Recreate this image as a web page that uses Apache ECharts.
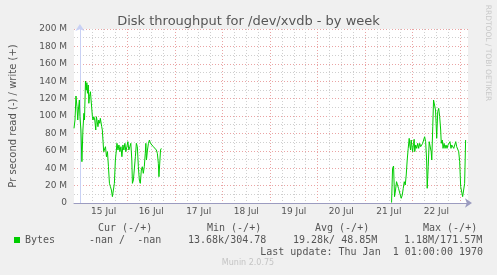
<!DOCTYPE html>
<html>
<head>
<meta charset="utf-8">
<script src="https://cdn.jsdelivr.net/npm/echarts@6/dist/echarts.min.js"></script>
<style>
html,body{margin:0;padding:0;background:#f0f0f0;}
#chart{width:497px;height:275px;}
</style>
</head>
<body>
<div id="chart"></div>
<script>
// hours relative to 15 Jul 00:00, write throughput in M
var hours1 = [-3.0,-2.5,-2.0,-1.5,-1.1,-0.8,-0.3,0.0,0.5,1.0,1.5,2.0,2.3,2.8,3.2,3.5,3.8,4.2,4.5,4.8,5.3,5.8,6.3,6.6,7.0,7.5,8.0,8.3,8.6,9.1,9.5,10.0,10.3,10.6,11.0,11.3,12.0,12.4,12.9,13.4,13.9,14.4,14.9,15.4,15.9,16.4,16.9,17.4,17.9,18.4,18.7,19.2,19.7,20.2,20.7,21.2,21.7,22.2,22.7,23.2,23.7,24.2,24.7,25.2,25.7,26.2,26.5,27.0,27.5,28.0,28.5,29.0,29.5,30.0,30.5,31.0,31.5,32.0,32.5,33.0,33.3,33.6,34.1,34.6,35.1,35.6,36.1,36.6,37.1,37.6,38.1,38.6,39.1,39.6,39.9,40.4,40.7,41.1,41.4];
var write1 = [85.8,95.4,123,110.7,95.4,106.9,118.4,99.2,83.9,47.5,83.9,103.1,95.4,140.2,129.9,138.3,126.1,135.6,114.6,122.2,127.9,129.9,99.2,95.4,99.2,95.4,83.9,99.2,95.4,87.7,95.4,91.6,97.3,99.2,87.7,83.9,59.0,57.1,64.7,53.2,59.0,41.7,22.6,18.7,14.9,7.3,5.4,22.6,49.4,60.9,68.6,60.9,66.7,59.0,64.7,53.2,66.7,60.9,68.6,59.0,64.7,70.5,60.9,64.7,68.6,49.4,22.6,26.4,24.5,53.2,68.6,64.7,41.7,26.4,22.6,37.9,41.7,34.1,41.7,57.1,68.6,49.4,60.9,68.6,72.4,68.6,67.8,66.7,64.7,62.8,66.7,60.9,57.1,45.6,30.2,30.2,60.9,62.8,60.9];
var hours2 = [157.4,157.9,158.4,158.9,159.4,159.9,160.4,160.9,161.3,161.8,162.3,162.8,163.3,163.8,164.3,164.8,165.3,165.8,166.3,166.6,167.0,167.3,167.6,168.0,168.5,168.8,169.1,169.6,170.1,170.6,171.1,171.6,172.1,172.6,173.1,173.6,174.1,174.6,175.1,175.4,175.9,176.4,176.9,177.4,177.7,178.2,178.6,179.1,179.6,179.9,180.2,180.7,181.2,181.7,182.2,182.5,183.0,183.4,183.9,184.4,184.9,185.4,185.9,186.4,186.9,187.4,187.8,188.3,188.8,189.3,189.8,190.3,190.8,191.3,191.8,192.3,192.8,193.3,193.8,194.3,194.8,195.1];
var write2 = [0.5,39.9,42.5,7.3,14.9,24.5,20.7,16.9,14.9,9.2,5.4,9.2,16.9,24.5,20.7,32.2,49.4,62.8,74.3,66.7,60.9,72.4,66.7,59.0,68.6,73.2,59.0,66.7,62.8,68.6,62.8,68.6,64.7,66.7,68.6,72.4,76.2,70.5,49.4,16.9,41.7,70.5,72.4,59.0,49.4,87.7,118.4,116.4,106.9,91.6,74.3,104.9,108.8,99.2,83.9,68.6,72.4,62.8,68.6,62.8,66.7,62.8,66.7,64.7,70.5,62.8,66.7,66.7,62.8,66.7,70.5,64.7,62.8,59.0,47.5,18.8,16.9,7.3,5.4,22.6,72.4,72.4];
var dayLabels = ['15 Jul','16 Jul','17 Jul','18 Jul','19 Jul','20 Jul','21 Jul','22 Jul'];
var yTicks = [0,20,40,60,80,100,120,140,160,180,200];
var statHeaders = ['Cur (-/+)','Min (-/+)','Avg (-/+)','Max (-/+)'];
var statValues = ['-nan /  -nan','13.68k/304.78','19.28k/ 48.85M','1.18M/171.57M'];
var seriesName = 'Bytes';
var titleText = 'Disk throughput for /dev/xvdb - by week';
var yName = 'Pr second read (-) / write (+)';
var lastUpdate = 'Last update: Thu Jan  1 01:00:00 1970';
var footer = 'Munin 2.0.75';
var sideText = 'RRDTOOL / TOBI OETIKER';

var data = [];
for (var i = 0; i < hours1.length; i++) data.push([hours1[i], write1[i]]);
data.push([100, '-']);
for (var j = 0; j < hours2.length; j++) data.push([hours2[j], write2[j]]);

var MAJOR = '#eaa4a4', MINOR = '#cfcfcf', NONE = 'rgba(0,0,0,0)';
var xMin = -3, xMax = 196;
var xColors = [];
for (var k = 0; k < 24; k++) {
  var hh = ((xMin + k) % 24 + 24) % 24;
  xColors.push(hh === 0 ? MAJOR : (hh % 6 === 0 ? MINOR : NONE));
}

var mono = '"DejaVu Sans Mono", monospace';
var sans = '"DejaVu Sans", sans-serif';
var txtColor = '#555555';

var headerX = [98, 207, 315, 423];
var valueX = [89, 188, 293, 404];
var graphics = [];
statHeaders.forEach(function (t, i) {
  graphics.push({type:'text', x:headerX[i], y:228, style:{text:t, font:'10px ' + mono, fill:txtColor, align:'left', verticalAlign:'middle'}});
});
statValues.forEach(function (t, i) {
  graphics.push({type:'text', x:valueX[i], y:240, style:{text:t, font:'10px ' + mono, fill:txtColor, align:'left', verticalAlign:'middle'}});
});
graphics.push({type:'text', x:483, y:252, style:{text:lastUpdate, font:'10px ' + mono, fill:txtColor, align:'right', verticalAlign:'middle'}});
graphics.push({type:'text', x:248, y:263, style:{text:footer, font:'8px ' + sans, fill:'#c4c4c4', align:'center', verticalAlign:'middle'}});
graphics.push({type:'text', x:488, y:53, rotation:-Math.PI/2, style:{text:sideText, font:'7.5px ' + sans, fill:'#c8c8c8', align:'center', verticalAlign:'middle'}});

var chart = echarts.init(document.getElementById('chart'));
chart.setOption({
  animation: false,
  backgroundColor: '#f0f0f0',
  title: {
    text: titleText, left: 'center', top: 10,
    textStyle: {fontFamily: sans, fontSize: 13, fontWeight: 'normal', color: txtColor}
  },
  legend: {
    data: [seriesName], left: 14, top: 235, padding: 0,
    icon: 'rect', itemWidth: 6, itemHeight: 6,
    textStyle: {fontFamily: mono, fontSize: 10, color: txtColor}
  },
  grid: {left: 67, right: 29, top: 29, bottom: 72, show: true, backgroundColor: '#ffffff', borderWidth: 0},
  xAxis: {
    type: 'value', min: xMin, max: xMax, interval: 1,
    axisLine: {show: true, lineStyle: {color: '#9c9cc0', width: 1}, symbol: ['none', 'arrow'], symbolSize: [7, 7], symbolOffset: [0, 4]},
    axisTick: {show: false},
    axisLabel: {
      margin: 4, fontFamily: sans, fontSize: 9, color: txtColor,
      showMinLabel: true, showMaxLabel: true,
      formatter: function (v) {
        var m = ((v % 24) + 24) % 24;
        if (m !== 12) return '';
        var d = Math.floor(v / 24);
        return dayLabels[d] || '';
      }
    },
    splitLine: {show: true, lineStyle: {color: xColors, type: [1, 2], width: 1}}
  },
  yAxis: {
    type: 'value', min: 0, max: 200, interval: 10,
    name: yName, nameLocation: 'middle', nameGap: 56,
    nameTextStyle: {fontFamily: sans, fontSize: 10, color: txtColor},
    axisLine: {show: true, lineStyle: {color: '#c8d0f4', width: 1}, symbol: ['none', 'arrow'], symbolSize: [7, 7], symbolOffset: [0, 5]},
    axisTick: {show: false},
    axisLabel: {
      margin: 7, fontFamily: sans, fontSize: 9, color: txtColor,
      formatter: function (v) {
        if (yTicks.indexOf(v) < 0) return '';
        return v === 0 ? '0' : v + ' M';
      }
    },
    splitLine: {show: true, lineStyle: {color: [MAJOR, MINOR], type: [1, 2], width: 1}}
  },
  series: [{
    name: seriesName, type: 'line', data: data,
    showSymbol: false, symbol: 'none', connectNulls: false,
    itemStyle: {color: '#00cc00'},
    lineStyle: {color: '#00cc00', width: 1}
  }],
  graphic: graphics
});
</script>
</body>
</html>
